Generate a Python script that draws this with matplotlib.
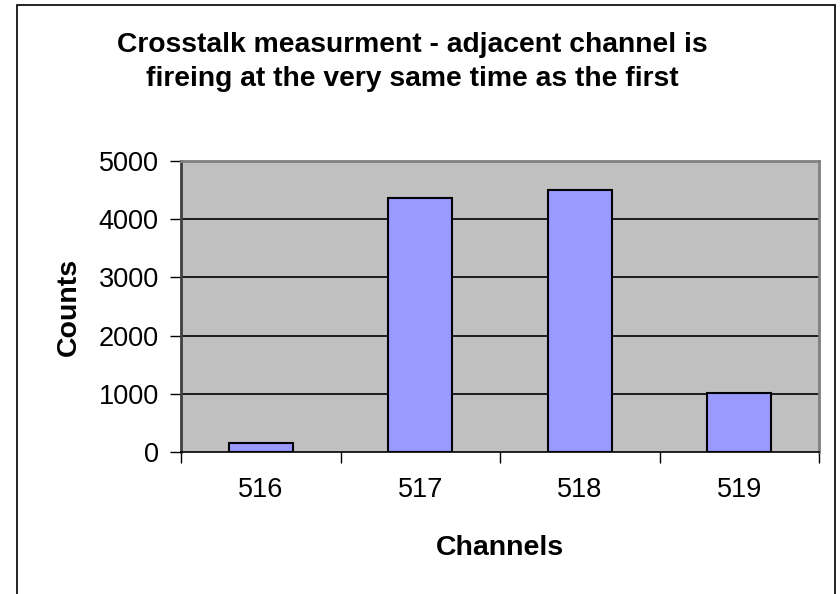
import matplotlib
matplotlib.use("Agg")
import matplotlib.pyplot as plt
from matplotlib.patches import Rectangle

channels = ['516', '517', '518', '519']
counts = [150, 4360, 4510, 1010]
y_ticks = [0, 1000, 2000, 3000, 4000, 5000]

def main():
    plt.rcParams['font.family'] = ['Liberation Sans', 'DejaVu Sans']

    fig = plt.figure(figsize=(8.4, 5.94), dpi=100)
    W, H = 840, 594
    # plot area in pixels: x 181-819, y 161-452
    ax = fig.add_axes([181 / W, 1 - 452 / H, (819 - 181) / W, (452 - 161) / H])
    ax.set_facecolor('#C0C0C0')

    # outer chart border
    fig.patches.append(Rectangle((17 / W, -0.01), (835 - 17) / W, 1 - 5 / H + 0.01,
                                 transform=fig.transFigure, fill=False,
                                 edgecolor='black', linewidth=1.2))

    x = list(range(len(channels)))
    ax.bar(x, counts, width=0.4, color='#9999FF', edgecolor='black',
           linewidth=1.5, zorder=3)

    ax.set_xlim(-0.5, 3.5)
    ax.set_ylim(0, 5000)
    ax.set_yticks(y_ticks)
    ax.set_yticklabels([str(v) for v in y_ticks])
    for v in y_ticks[1:]:
        ax.axhline(v, color='black', linewidth=1.2, zorder=1)

    ax.set_xticks(x)
    ax.set_xticklabels(channels)
    ax.set_xticks([i - 0.5 for i in range(len(channels) + 1)], minor=True)
    ax.tick_params(axis='x', which='major', length=0, pad=18, labelsize=19.5)
    ax.tick_params(axis='x', which='minor', length=8, width=1, direction='out')
    ax.tick_params(axis='y', length=8, width=1, direction='out', pad=8, labelsize=19.5)

    ax.spines['left'].set_color('#404040')
    ax.spines['left'].set_linewidth(2)
    ax.spines['bottom'].set_color('black')
    ax.spines['bottom'].set_linewidth(1.2)
    ax.spines['top'].set_color('#808080')
    ax.spines['top'].set_linewidth(2)
    ax.spines['right'].set_color('#808080')
    ax.spines['right'].set_linewidth(2)

    ax.set_xlabel('Channels', fontsize=20.5, fontweight='bold', labelpad=23)
    ax.set_ylabel('Counts', fontsize=20.5, fontweight='bold', labelpad=12)

    fig.text(412 / W, 1 - 62 / H,
             'Crosstalk measurment - adjacent channel is\nfireing at the very same time as the first',
             ha='center', va='center', fontsize=20.3, fontweight='bold',
             linespacing=1.4)

    fig.savefig('out.png', dpi=100)

if __name__ == "__main__":
    main()
